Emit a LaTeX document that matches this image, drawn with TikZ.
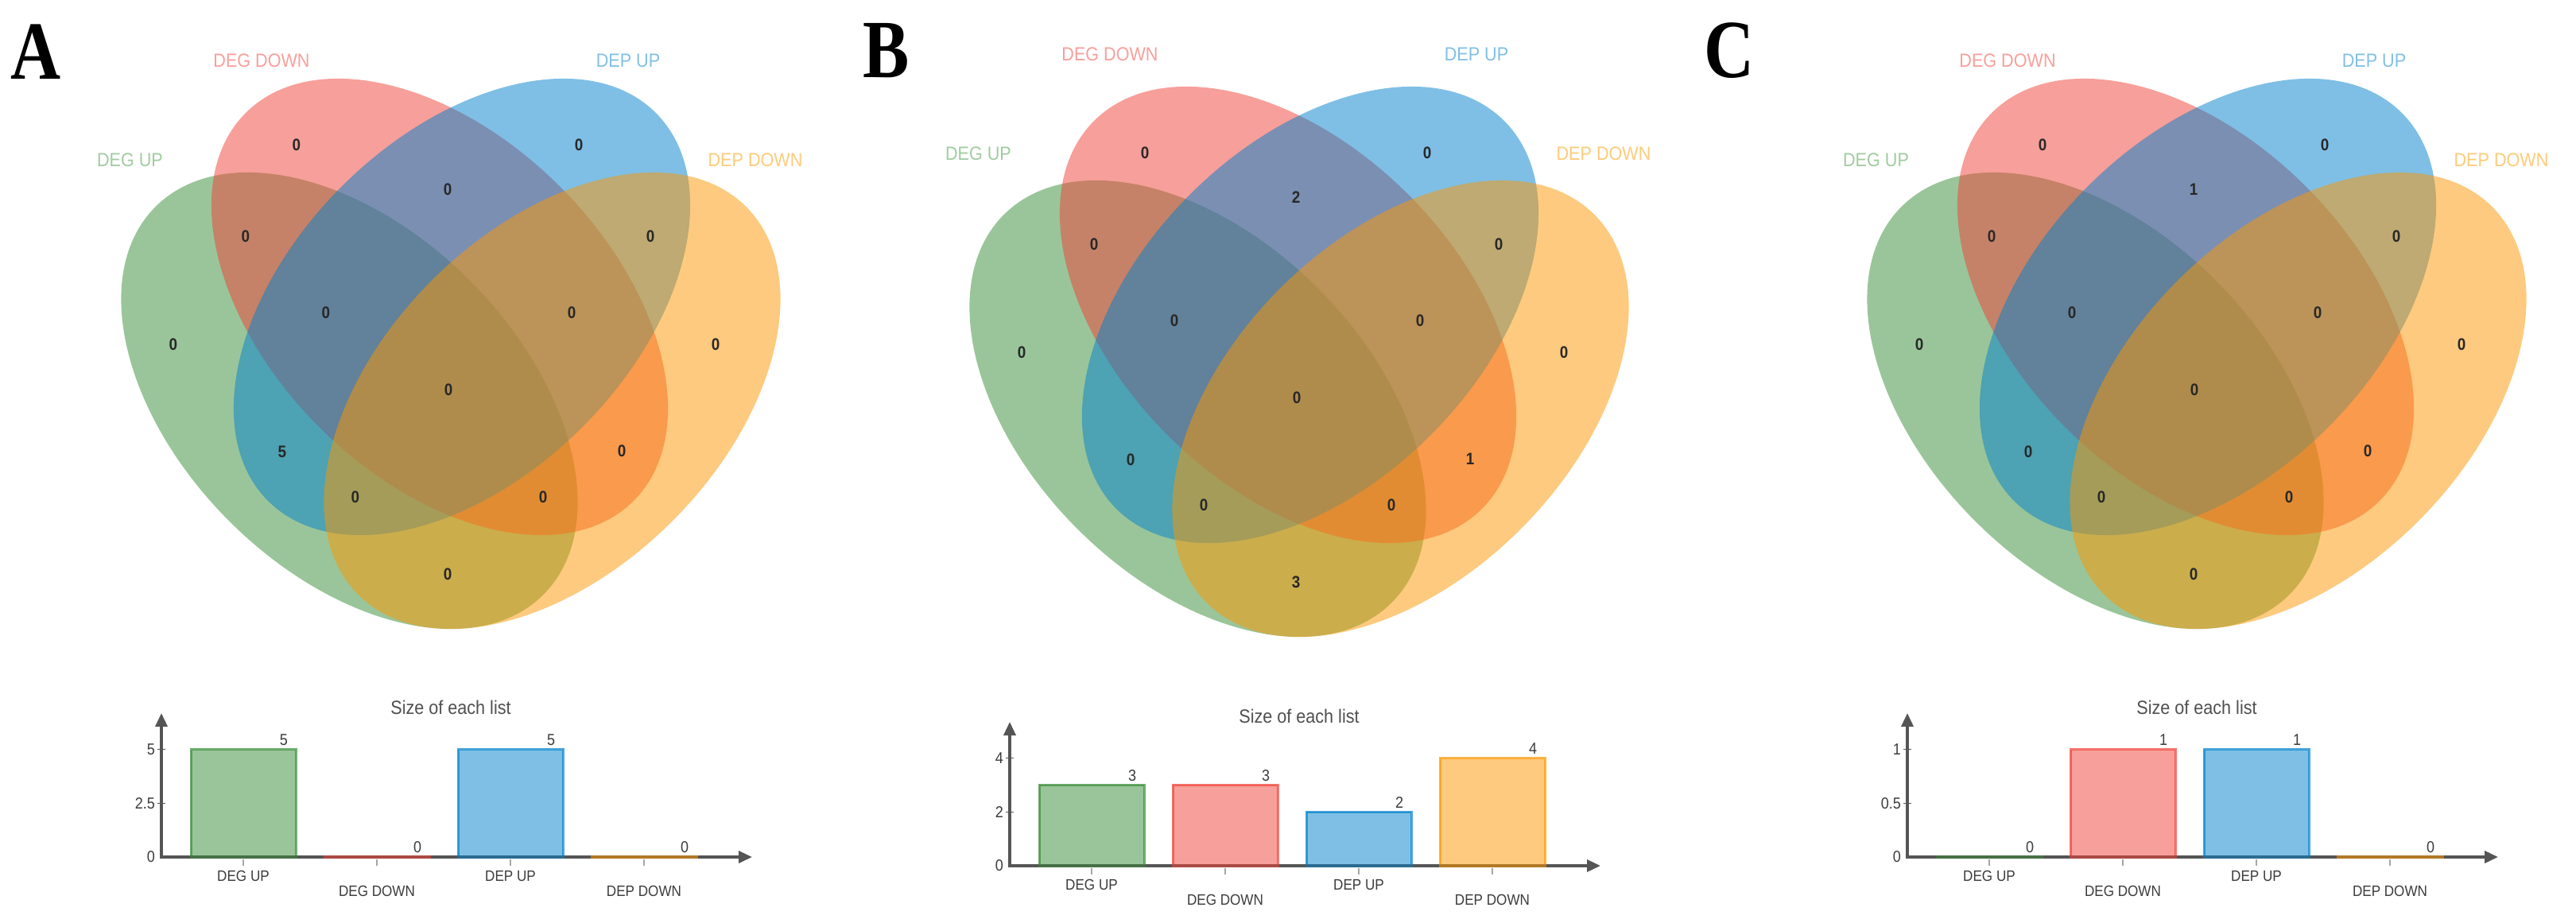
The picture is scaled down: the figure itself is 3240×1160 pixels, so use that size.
\documentclass[tikz,border=0pt]{standalone}
\usepackage{fontspec}
\setmainfont{Liberation Sans}
\newfontfamily\cond[FakeStretch=0.9]{Liberation Sans}
\newfontfamily\letterfont[FakeStretch=0.84]{Liberation Serif}
\usetikzlibrary{arrows.meta}
\definecolor{cG}{RGB}{55,141,55}
\definecolor{cR}{RGB}{241,65,55}
\definecolor{cB}{RGB}{1,129,205}
\definecolor{cO}{RGB}{253,151,0}
\definecolor{lG}{RGB}{160,204,160}
\definecolor{lR}{RGB}{248,160,155}
\definecolor{lB}{RGB}{128,192,230}
\definecolor{lO}{RGB}{254,203,122}
\definecolor{axisgray}{RGB}{85,85,85}
\definecolor{numgray}{RGB}{40,40,40}
\definecolor{txtgray}{RGB}{60,60,60}

\newcommand\mkvenn[8]{%
\begin{scope}[shift={(#2,#3)}]
 \fill[cG, vset, shift={(-127.5,504)}, rotate=-45] (0,0) ellipse [x radius=345pt, y radius=214pt];
 \fill[cR, vset, shift={(-14,386)}, rotate=-45] (0,0) ellipse [x radius=345pt, y radius=214pt];
 \fill[cB, vset, shift={(14,386)}, rotate=45] (0,0) ellipse [x radius=345pt, y radius=214pt];
 \fill[cO, vset, shift={(127.5,504)}, rotate=45] (0,0) ellipse [x radius=345pt, y radius=214pt];
 \node[num] (#1r1) at (-194,182) {0};
 \node[num] (#1r2) at (161,182) {0};
 \node[num] (#1r3) at (-4,238) {#5};
 \node[num] (#1r4) at (-258,297) {0};
 \node[num] (#1r5) at (251,297) {0};
 \node[num] (#1r6) at (-157,393) {0};
 \node[num] (#1r7) at (152,393) {0};
 \node[num] (#1r8) at (-349,433) {0};
 \node[num] (#1r9) at (333,433) {0};
 \node[num] (#1r10) at (-3,490) {0};
 \node[num] (#1r11) at (-212,568) {#6};
 \node[num] (#1r12) at (215,567) {#7};
 \node[num] (#1r13) at (-120,625) {0};
 \node[num] (#1r14) at (116,625) {0};
 \node[num] (#1r15) at (-4,722) {#8};
\end{scope}
\begin{scope}[shift={(#2,#4)}]
 \node[setl, text=lG] (#1sGU) at (-403.5,201.5) {DEG UP};
 \node[setl, text=lR] (#1sGD) at (-238,76) {DEG DOWN};
 \node[setl, text=lB] (#1sPU) at (223,76) {DEP UP};
 \node[setl, text=lO] (#1sPD) at (383,201.5) {DEP DOWN};
\end{scope}}

\newcommand\mkbars[9]{%
\begin{scope}[shift={(#2,#3)}]
 \pgfmathsetmacro\bscale{135.5/#5}
 \draw[axisl] (-364,2) -- (-364,-181);
 \draw[axisl] (-366,0) -- (379,0);
 \foreach \tx in {-261,-93,75,243} \draw[xtk] (\tx,3) -- (\tx,11);
 \draw[ytk] (-369,-135.5) -- (-359,-135.5);
 \draw[ytk] (-369,-67.75) -- (-359,-67.75);
 \node[tkl] (#1y0) at (-372,0) {0};
 \node[tkl] (#1y1) at (-372,-67.75) {#4};
 \node[tkl] (#1y2) at (-372,-135.5) {#5};
 \filldraw[bar, fill=cG, draw=cG] (-327,0) rectangle (-195,{-#6*\bscale});
 \filldraw[bar, fill=cR, draw=cR] (-159,0) rectangle (-27,{-#7*\bscale});
 \filldraw[bar, fill=cB, draw=cB] (9,0) rectangle (141,{-#8*\bscale});
 \filldraw[bar, fill=cO, draw=cO] (177,0) rectangle (309,{-#9*\bscale});
 \draw[base, draw=cG!50!axisgray] (-328.5,0) -- (-193.5,0);
 \draw[base, draw=cR!55!axisgray] (-160.5,0) -- (-25.5,0);
 \draw[base, draw=cB!50!axisgray] (7.5,0) -- (142.5,0);
 \draw[base, draw=cO!55!axisgray] (175.5,0) -- (310.5,0);
 \node[vall] (#1v1) at (-210,{-#6*\bscale-12}) {#6};
 \node[vall] (#1v2) at (-42,{-#7*\bscale-12}) {#7};
 \node[vall] (#1v3) at (126,{-#8*\bscale-12}) {#8};
 \node[vall] (#1v4) at (294,{-#9*\bscale-12}) {#9};
 \node[catl] (#1c1) at (-261,24) {DEG UP};
 \node[catl] (#1c2) at (-93,43) {DEG DOWN};
 \node[catl] (#1c3) at (75,24) {DEP UP};
 \node[catl] (#1c4) at (243,43) {DEP DOWN};
 \node[ttl] (#1t) at (0,-188) {Size of each list};
\end{scope}}

\begin{document}
\begin{tikzpicture}[x=1pt,y=-1pt,
  vset/.style={fill opacity=0.5},
  num/.style={font=\cond\bfseries\fontsize{21}{21}\selectfont, text=numgray, inner sep=0pt},
  setl/.style={font=\cond\fontsize{24}{24}\selectfont, inner sep=0pt},
  letter/.style={font=\letterfont\bfseries\fontsize{104}{104}\selectfont, inner sep=0pt},
  axisl/.style={draw=axisgray, line width=3.5pt, -{Triangle[length=17pt,width=15pt]}},
  base/.style={line width=4pt},
  xtk/.style={draw=black!35, line width=1.5pt},
  ytk/.style={draw=axisgray, line width=1.5pt},
  tkl/.style={font=\cond\fontsize{20}{20}\selectfont, text=txtgray, inner sep=0pt, anchor=east},
  bar/.style={fill opacity=0.5, draw opacity=0.7, line width=3pt},
  vall/.style={font=\cond\fontsize{20}{20}\selectfont, text=txtgray, inner sep=0pt},
  catl/.style={font=\cond\fontsize{19}{19}\selectfont, text=txtgray, inner sep=0pt},
  ttl/.style={font=\cond\fontsize{24}{24}\selectfont, text=txtgray!90, inner sep=0pt}]
\useasboundingbox (0,0) rectangle (3240,1160);
\fill[white] (0,0) rectangle (3240,1160);

\mkvenn{A}{567}{0}{0}{0}{5}{0}{0}
\mkvenn{B}{1634}{10}{-8}{2}{0}{1}{3}
\mkvenn{C}{2763}{0}{0}{1}{0}{0}{0}

\mkbars{A}{567}{1078}{2.5}{5}{5}{0}{5}{0}
\mkbars{B}{1634}{1089}{2}{4}{3}{3}{2}{4}
\mkbars{C}{2763}{1078}{0.5}{1}{0}{1}{1}{0}

\node[letter] (LA) at (45,65) {A};
\node[letter] (LB) at (1115,64) {B};
\node[letter] (LC) at (2175,64) {C};
\end{tikzpicture}
\end{document}
